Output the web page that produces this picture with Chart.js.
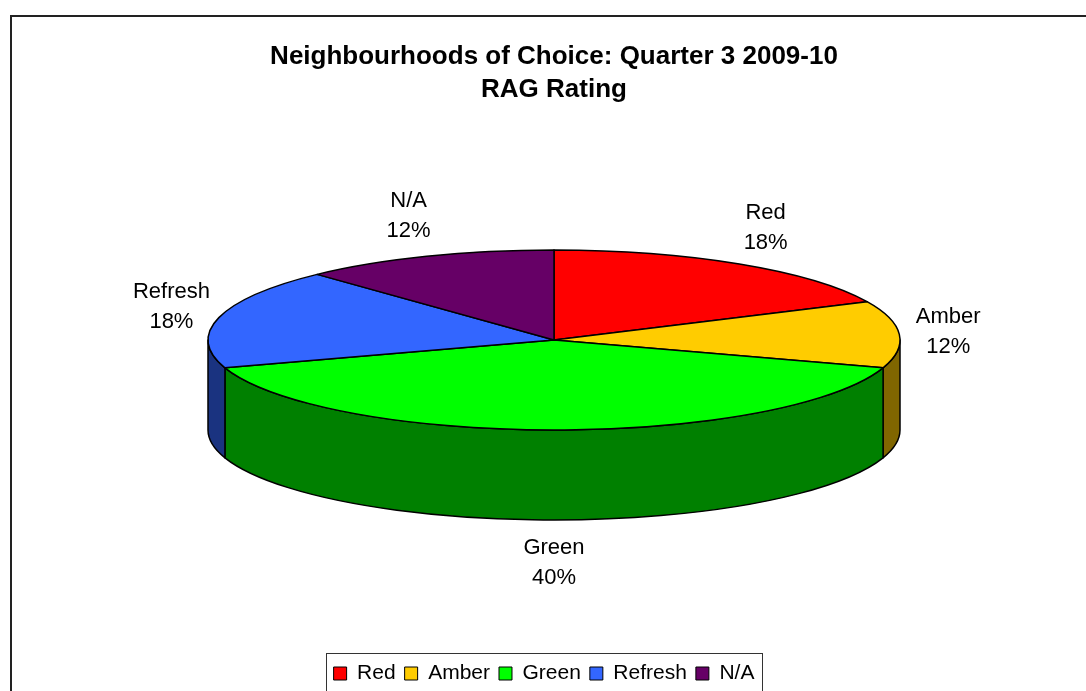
<!DOCTYPE html>
<html>
<head>
<meta charset="utf-8">
<script src="https://cdn.jsdelivr.net/npm/chart.js@4/dist/chart.umd.min.js"></script>
<style>
  html, body { margin: 0; padding: 0; background: #fff; }
  #chart { display: block; }
</style>
</head>
<body>
<canvas id="chart" width="1086" height="691"></canvas>
<script>
const categories = ["Red", "Amber", "Green", "Refresh", "N/A"];
const shares = [18, 12, 40, 18, 12];
const topColors = ["#FF0000", "#FFCC00", "#00FF00", "#3366FF", "#660066"];
const sideColors = ["#800000", "#806600", "#008000", "#1A3380", "#330033"];
const titleLines = ["Neighbourhoods of Choice: Quarter 3 2009-10", "RAG Rating"];

const FONT = "Arial, 'Liberation Sans', sans-serif";

// outer frame of the embedded chart object
const framePlugin = {
  id: "frame",
  afterLayout(chart) {
    // nudge the legend a little left and down
    let lg = chart.legend;
    lg.left -= 10;
    lg.right -= 10;
    lg.top += 3;
    lg.bottom += 3;
  },
  beforeDraw(chart) {
    let ctx = chart.ctx;
    ctx.save();
    ctx.fillStyle = "#fff";
    ctx.fillRect(0, 0, chart.width, chart.height);
    ctx.strokeStyle = "#222";
    ctx.lineWidth = 2;
    ctx.strokeRect(11, 16, chart.width + 20, chart.height + 20);
    ctx.restore();
  },
  afterDraw(chart) {
    // border round the legend
    let boxes = chart.legend.legendHitBoxes;
    if (!boxes || !boxes.length) return;
    let first = boxes[0];
    let last = boxes[boxes.length - 1];
    let ctx = chart.ctx;
    ctx.save();
    ctx.strokeStyle = "#333";
    ctx.lineWidth = 1;
    let left = Math.round(first.left - 8) + 0.5;
    let right = Math.round(last.left + last.width + 8) + 0.5;
    let top = Math.round(first.top - 10) + 0.5;
    ctx.strokeRect(left, top, right - left, 60);
    ctx.restore();
  }
};

// squashes the pie into a tilted disc with a side wall
const pie3dPlugin = {
  id: "pie3d",
  beforeDatasetsDraw(chart, args, opts) {
    let ctx = chart.ctx;
    let meta = chart.getDatasetMeta(0);
    let { cx, cy, rx, ry, depth } = opts;
    let total = shares.reduce((a, b) => a + b, 0);

    ctx.save();
    ctx.lineWidth = 1.5;
    ctx.strokeStyle = "#000";
    ctx.lineJoin = "round";

    // front walls (lower half of the ellipse only)
    meta.data.forEach((arc, i) => {
      let { startAngle, endAngle } = arc.getProps(["startAngle", "endAngle"], true);
      let a = Math.max(startAngle, 0);
      let b = Math.min(endAngle, Math.PI);
      if (b <= a) return;
      ctx.beginPath();
      ctx.ellipse(cx, cy, rx, ry, 0, a, b);
      ctx.lineTo(cx + rx * Math.cos(b), cy + depth + ry * Math.sin(b));
      ctx.ellipse(cx, cy + depth, rx, ry, 0, b, a, true);
      ctx.closePath();
      ctx.fillStyle = sideColors[i];
      ctx.fill();
      ctx.stroke();
    });

    // top faces
    meta.data.forEach((arc, i) => {
      let { startAngle, endAngle } = arc.getProps(["startAngle", "endAngle"], true);
      ctx.beginPath();
      ctx.moveTo(cx, cy);
      ctx.ellipse(cx, cy, rx, ry, 0, startAngle, endAngle);
      ctx.closePath();
      ctx.fillStyle = topColors[i];
      ctx.fill();
      ctx.stroke();
    });

    // data labels
    ctx.fillStyle = "#000";
    ctx.font = "22px " + FONT;
    ctx.textAlign = "center";
    ctx.textBaseline = "middle";
    meta.data.forEach((arc, i) => {
      let { startAngle, endAngle } = arc.getProps(["startAngle", "endAngle"], true);
      let mid = (startAngle + endAngle) / 2;
      let x = cx + (rx + opts.labelGapX) * Math.cos(mid);
      let y = cy + (ry + opts.labelGapY) * Math.sin(mid);
      if (Math.sin(mid) > 0) y += depth;
      let pct = Math.round((shares[i] / total) * 100) + "%";
      ctx.fillText(categories[i], x, y - 15);
      ctx.fillText(pct, x, y + 15);
    });

    ctx.restore();
    return false;
  }
};

new Chart(document.getElementById("chart"), {
  type: "pie",
  data: {
    labels: categories,
    datasets: [
      {
        data: shares,
        backgroundColor: topColors,
        borderColor: "#000",
        borderWidth: 1,
      },
    ],
  },
  plugins: [framePlugin, pie3dPlugin],
  options: {
    responsive: false,
    animation: false,
    layout: { padding: { left: 22, right: 0, top: 15, bottom: 0 } },
    plugins: {
      title: {
        display: true,
        text: titleLines,
        color: "#000",
        font: { family: FONT, size: 26, weight: "bold", lineHeight: 1.27 },
        padding: { top: 25, bottom: 10 },
      },
      legend: {
        position: "bottom",
        labels: {
          color: "#000",
          font: { family: FONT, size: 21 },
          boxWidth: 13,
          boxHeight: 13,
          padding: 9,
        },
      },
      tooltip: { enabled: false },
      pie3d: { cx: 554, cy: 340, rx: 346, ry: 90, depth: 90, labelGapX: 49, labelGapY: 43 },
    },
  },
});
</script>
</body>
</html>
